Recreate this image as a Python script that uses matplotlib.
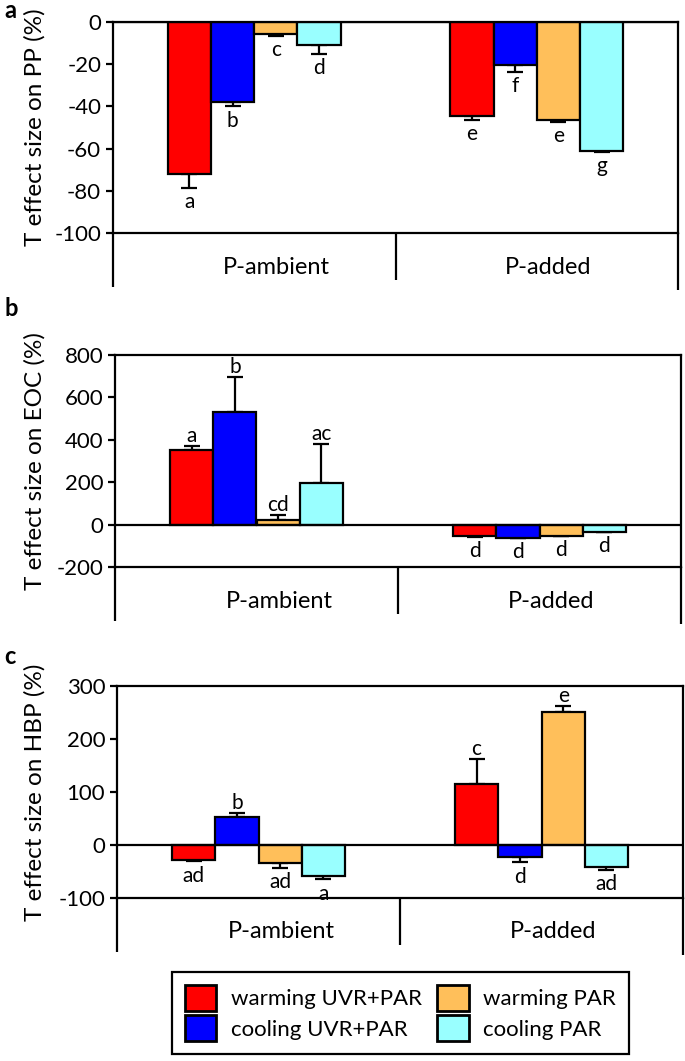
import numpy as np
import matplotlib.pyplot as plt
from matplotlib.patches import Patch

plt.rcParams['font.family'] = ['Lato', 'DejaVu Sans']
plt.rcParams['axes.unicode_minus'] = False

# data
groups = ["P-ambient", "P-added"]
treatments = ["warming UVR+PAR", "cooling UVR+PAR", "warming PAR", "cooling PAR"]
colors = ["#ff0000", "#0000ff", "#ffbf5a", "#99ffff"]

pp_vals = [[-72, -38, -5.5, -11], [-44.5, -20.5, -46.5, -61]]
pp_err = [[6.5, 2, 1, 4], [2, 3, 0.7, 0.7]]
pp_let = [["a", "b", "c", "d"], ["e", "f", "e", "g"]]

eoc_vals = [[353, 532, 24, 198], [-56, -61, -52, -33]]
eoc_err = [[19, 164, 23, 183], [3, 3, 3, 3]]
eoc_let = [["a", "b", "cd", "ac"], ["d", "d", "d", "d"]]

hbp_vals = [[-28, 53, -34, -59], [115, -23, 251, -41]]
hbp_err = [[3, 7, 10, 6], [47, 10, 11, 6]]
hbp_let = [["ad", "b", "ad", "a"], ["c", "d", "e", "ad"]]

panels = [
    ("a", "T effect size on PP (%)", pp_vals, pp_err, pp_let, (-100, 0), [-100, -80, -60, -40, -20, 0]),
    ("b", "T effect size on EOC (%)", eoc_vals, eoc_err, eoc_let, (-200, 800), [-200, 0, 200, 400, 600, 800]),
    ("c", "T effect size on HBP (%)", hbp_vals, hbp_err, hbp_let, (-100, 300), [-100, 0, 100, 200, 300]),
]

W, H = 685, 1061
# axes boxes in pixels: left, right, top, bottom
boxes = [(113, 678, 22, 233), (115, 681, 355, 567), (117, 683, 686, 898)]
letter_y = [10, 308, 657]

fs = 16
lw = 1.6
bw = 0.153
offs = np.array([-1.5, -0.5, 0.5, 1.5]) * bw
centers = [0.5, 1.5]

fig = plt.figure(figsize=(W / 100, H / 100), dpi=100)

for k, (tag, ylab, vals, errs, lets, ylim, yt) in enumerate(panels):
    l, r, t, b = boxes[k]
    hpx = b - t
    ax = fig.add_axes([l / W, 1 - b / H, (r - l) / W, hpx / H])
    for g in range(2):
        v = np.array(vals[g], dtype=float)
        e = np.array(errs[g], dtype=float)
        x = centers[g] + offs
        ax.bar(x, v, width=bw, color=colors, edgecolor="black", linewidth=lw, zorder=3)
        lower = np.where(v < 0, e, 0)
        upper = np.where(v > 0, e, 0)
        ax.errorbar(x, v, yerr=[lower, upper], fmt="none", ecolor="black",
                    elinewidth=lw, capsize=6, capthick=lw, zorder=2)
        for xi, vi, ei, s in zip(x, v, e, lets[g]):
            if vi < 0:
                ax.annotate(s, (xi, vi - ei), xytext=(0, -3), textcoords="offset points",
                            ha="center", va="top", fontsize=fs - 1)
            else:
                ax.annotate(s, (xi, vi + ei), xytext=(0, 0), textcoords="offset points",
                            ha="center", va="bottom", fontsize=fs - 1)
    ax.axhline(0, color="black", linewidth=lw, zorder=4)
    ax.set_xlim(0, 2)
    ax.set_ylim(*ylim)
    ax.set_yticks(yt)
    ax.set_xticks([])
    ax.tick_params(axis="y", labelsize=fs, width=lw, length=5, direction="out")
    for sp in ax.spines.values():
        sp.set_linewidth(lw)
    ax.set_ylabel(ylab, fontsize=fs + 1.5)
    ax.yaxis.set_label_coords((46 - l) / (r - l), 0.5)

    # category box below the axes
    tr = ax.get_xaxis_transform()
    for xv, ext in [(0, 54), (1.0, 47), (2, 57)]:
        ax.plot([xv, xv], [0, -ext / hpx], color="black", linewidth=lw,
                transform=tr, clip_on=False, solid_capstyle="butt")
    for xv, name in zip([0.58, 1.54], groups):
        ax.text(xv, -34 / hpx, name, transform=tr, ha="center", va="center", fontsize=fs + 1)

    fig.text(4 / W, 1 - letter_y[k] / H, tag, fontsize=fs + 1, fontweight="bold",
             ha="left", va="center")

handles = [Patch(facecolor=c, edgecolor="black", linewidth=2) for c in colors]
leg = fig.legend(handles, treatments, ncol=2, loc="center",
                 bbox_to_anchor=((178 + 623) / 2 / W, 1 - (966 + 1060) / 2 / H),
                 fontsize=fs, handlelength=1.4, handleheight=1.4, labelspacing=0.22,
                 handletextpad=0.65, columnspacing=0.7, borderpad=0.6,
                 fancybox=False, edgecolor="black", framealpha=1)
leg.get_frame().set_linewidth(lw)

fig.savefig("out.png", dpi=100)
